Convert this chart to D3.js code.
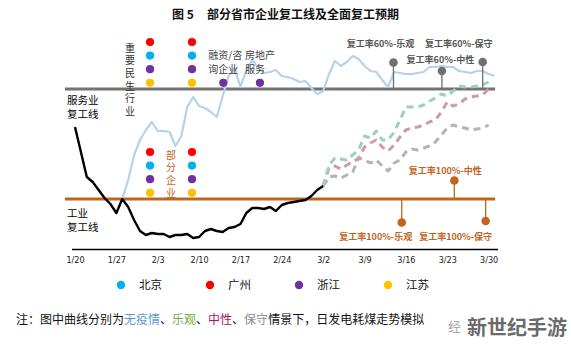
<!DOCTYPE html>
<html><head><meta charset="utf-8">
<script src="https://cdn.jsdelivr.net/npm/d3@7"></script>
<style>body{margin:0;background:#fff} svg{display:block}</style>
</head><body>
<svg id="c" width="571" height="356"></svg>
<script>
// ---------------- data ----------------
const tickDays = [0, 7, 14, 21, 28, 35, 42, 49, 56, 63, 70];
const tickLabels = ["1/20", "1/27", "2/3", "2/10", "2/17", "2/24", "3/2", "3/9", "3/16", "3/23", "3/30"];

// actual daily coal consumption index (black), starting 1/20
const actualStart = 0;
const actualValues = [61.5, 49, 36.5, 34, 30, 26, 23, 18.5, 25.5, 21.5, 15, 9.5, 7.5, 8.5, 8, 8, 6.5, 7.5, 7.5, 8,
  6, 6.5, 9.5, 10.5, 9.5, 9, 11, 11.5, 13, 18.5, 21, 21, 20.5, 21.5, 19.5, 22.5, 23.5, 24, 24.5, 25, 27, 30, 32];

// no-epidemic scenario (light blue)
const noEpidemicStart = 8;
const noEpidemicValues = [25.5, 35, 47.5, 55, 60, 64, 59.5, 59.5, 59, 52, 57, 71.5, 76.5, 72, 71, 69, 66.5, 77, 87, 91,
  81.5, 90, 95, 91, 88.5, 89, 90, 87, 86.5, 85.5, 84, 84.5, 81, 78, 79.5, 88, 94.5, 92, 94, 97,
  95.5, 92, 89.5, 89, 85, 81.5, 89, 88.5, 88, 88, 88.5, 89, 91.5, 91.5, 92, 91.5, 91.5, 89.5, 89, 88.5,
  89.5, 89.5, 88, 87];

// scenario projections from 3/2
const scenarioStart = 42;
const optimisticValues = [32, 42.5, 46, 45.5, 45, 47.5, 50, 57, 56, 59.5, 55, 55, 59, 65, 71.5, 71.5, 71.5, 72.5, 74.5, 76,
  78, 77, 79.5, 82, 81.5, 81.5, 82, 82.5, 84];
const neutralValues = [32, 41, 42, 40.5, 42.5, 44, 46, 51.5, 53.5, 55, 51.5, 49.5, 52.5, 56.5, 60, 61, 61.5, 62.5, 64, 65,
  69, 74, 72, 73, 75.5, 76.5, 77, 77.5, 80.5];
const conservativeValues = [32, 36.5, 37, 36, 37.5, 39, 46, 45, 43.5, 45, 42, 39.5, 43.5, 45, 49, 50.5, 50, 51, 52, 54,
  57.5, 61, 62.5, 61.5, 61, 60, 60.5, 61, 62.5];

const serviceLineValue = 80.5;   // 服务业复工线
const industryLineValue = 25.5;  // 工业复工线

const provinces = ["北京", "广州", "浙江", "江苏"];
const provinceColors = ["#00b0f0", "#ff0000", "#7030a0", "#ffc000"];

// annotated sectors (day index, provinces that resumed)
const serviceGroups = [
  { day: 12.7, provinces: ["广州", "北京", "浙江", "江苏"] },
  { day: 19.8, provinces: ["广州", "北京", "浙江", "江苏"] },
  { day: 25.1, provinces: ["浙江"], label: ["融资/咨", "询企业"] },
  { day: 31.3, provinces: ["浙江"], label: ["房地产", "服务"] }
];
const industryGroups = [
  { day: 12.7, provinces: ["广州", "北京", "浙江", "江苏"] },
  { day: 19.8, provinces: ["广州", "北京", "浙江", "江苏"] }
];

const milestones60 = [
  { label: "复工率60%-乐观", day: 53.9 },
  { label: "复工率60%-中性", day: 62.1 },
  { label: "复工率60%-保守", day: 69 }
];
const milestones100 = [
  { label: "复工率100%-乐观", day: 55.3 },
  { label: "复工率100%-中性", day: 64.2 },
  { label: "复工率100%-保守", day: 69.5 }
];

// ---------------- drawing ----------------
const svg = d3.select("#c");
const CJK = "'Noto Sans CJK SC', 'Noto Sans', sans-serif";
const x = d3.scaleLinear().domain([0, 70]).range([75, 488.6]);
const y = d3.scaleLinear().domain([0, 105]).range([250, 40]);

// title
svg.append("text").attr("x", 172).attr("y", 19).attr("font-family", CJK).attr("font-weight", "bold")
  .attr("font-size", 12).attr("fill", "#111").text("图 5");
svg.append("text").attr("x", 207).attr("y", 19).attr("font-family", CJK).attr("font-weight", "bold")
  .attr("font-size", 12).attr("fill", "#111").text("部分省市企业复工线及全面复工预期");

// reference lines
const refLines = [
  { v: serviceLineValue, color: "#737373" },
  { v: industryLineValue, color: "#c0651f" }
];
svg.selectAll(".ref").data(refLines).join("line")
  .attr("x1", x(-1.7)).attr("x2", x(71.1))
  .attr("y1", d => y(d.v)).attr("y2", d => y(d.v))
  .attr("stroke", d => d.color).attr("stroke-width", 3.2);

// x axis
const axisG = svg.append("g").attr("transform", `translate(0,${y(0) - 0.5})`);
axisG.append("line").attr("x1", x(-0.5)).attr("x2", x(71.6)).attr("stroke", "#000").attr("stroke-width", 1.3);
const ax = d3.axisBottom(x).tickValues(tickDays).tickSize(0).tickPadding(7)
  .tickFormat(d => tickLabels[tickDays.indexOf(d)]);
const axG2 = axisG.append("g").call(ax);
axG2.select(".domain").remove();
axG2.selectAll("text").attr("font-family", "'Liberation Sans Narrow', 'DejaVu Sans Condensed', sans-serif")
  .attr("font-size", 9).attr("fill", "#222");

// lines
const line = d3.line().x(d => x(d[0])).y(d => y(d[1]));
const toPts = (start, arr) => arr.map((v, i) => [start + i, v]);

svg.append("path").attr("d", line(toPts(noEpidemicStart, noEpidemicValues)))
  .attr("fill", "none").attr("stroke", "#b4d3ea").attr("stroke-width", 2.2).attr("stroke-linejoin", "round");

const scen = [
  { vals: conservativeValues, color: "#b3b3bb" },
  { vals: neutralValues, color: "#d09aaa" },
  { vals: optimisticValues, color: "#9dd1bb" }
];
scen.forEach(s => {
  svg.append("path").attr("d", line(toPts(scenarioStart, s.vals)))
    .attr("fill", "none").attr("stroke", s.color).attr("stroke-width", 3)
    .attr("stroke-dasharray", "7,5").attr("stroke-linejoin", "round");
});

svg.append("path").attr("d", line(toPts(actualStart, actualValues)))
  .attr("fill", "none").attr("stroke", "#000").attr("stroke-width", 2.4).attr("stroke-linejoin", "round");

// multi-line label as one text element
function multi(lines, xx, yy, size, color, step) {
  const t = svg.append("text").attr("x", xx).attr("y", yy).attr("font-family", CJK)
    .attr("font-size", size).attr("fill", color);
  lines.forEach((s, j) => t.append("tspan").attr("x", xx).attr("dy", j ? step : 0).text(s));
  return t;
}
multi(["服务业", "复工线"], 67, 104, 10.5, "#000", 14.3);
multi(["工业", "复工线"], 67, 217, 10.5, "#000", 14.3);

// province dot stacks
const colorOf = p => provinceColors[provinces.indexOf(p)];
function drawStack(groups, baseVal) {
  groups.forEach(g => {
    const n = g.provinces.length;
    g.provinces.forEach((p, i) => {
      const k = n - 1 - i; // stack from bottom
      svg.append("circle").attr("cx", x(g.day)).attr("cy", y(baseVal) - 6.2 - k * 13.6)
        .attr("r", 4.1).attr("fill", colorOf(p));
    });
    if (g.label) multi(g.label, x(g.day) - 15, y(baseVal) - 30, 10, "#404040", 14);
  });
}
drawStack(serviceGroups, serviceLineValue);
drawStack(industryGroups, industryLineValue);

// vertical texts (single text element, vertical writing mode)
function vtext(str, xx, yTop, color) {
  svg.append("text").attr("x", xx).attr("y", yTop)
    .style("writing-mode", "vertical-rl").style("letter-spacing", "2.6px")
    .attr("font-family", CJK).attr("font-size", 10).attr("fill", color).text(str);
}
vtext("重要民生行业", (x(12.7) + x(19.8)) / 2 - 41, 43, "#333");
vtext("部分企业", (x(12.7) + x(19.8)) / 2, 150, "#c0651f");

// 60% milestones
const m60 = { dotOff: [-26.5, -18, -27], lx: [-13, -1.5, -24], ly: [-42, -26, -42] };
milestones60.forEach((m, i) => {
  const cx = x(m.day), base = y(serviceLineValue);
  svg.append("line").attr("x1", cx).attr("x2", cx).attr("y1", base).attr("y2", base + m60.dotOff[i])
    .attr("stroke", "#6f6f6f").attr("stroke-width", 1.3);
  svg.append("circle").attr("cx", cx).attr("cy", base + m60.dotOff[i]).attr("r", 4.3).attr("fill", "#6f6f6f");
  svg.append("text").attr("x", cx + m60.lx[i]).attr("y", base + m60.ly[i]).attr("text-anchor", "middle")
    .attr("font-family", CJK).attr("font-weight", "bold").attr("font-size", 9).attr("fill", "#555").text(m.label);
});
// 100% milestones
const m100 = { dotOff: [23.5, -18.5, 22], lx: [-26, -9, -30], ly: [40.5, -25, 40.5] };
milestones100.forEach((m, i) => {
  const cx = x(m.day), base = y(industryLineValue);
  svg.append("line").attr("x1", cx).attr("x2", cx).attr("y1", base).attr("y2", base + m100.dotOff[i])
    .attr("stroke", "#c0651f").attr("stroke-width", 1.3);
  svg.append("circle").attr("cx", cx).attr("cy", base + m100.dotOff[i]).attr("r", 4.3).attr("fill", "#c0651f");
  svg.append("text").attr("x", cx + m100.lx[i]).attr("y", base + m100.ly[i]).attr("text-anchor", "middle")
    .attr("font-family", CJK).attr("font-weight", "bold").attr("font-size", 9).attr("fill", "#c0651f").text(m.label);
});

// legend
const leg = svg.append("g").attr("transform", "translate(121,285)");
provinces.forEach((p, i) => {
  const g = leg.append("g").attr("transform", `translate(${i * 89},0)`);
  g.append("circle").attr("r", 4.2).attr("fill", provinceColors[i]);
  g.append("text").attr("x", 18).attr("y", 4.2).attr("font-family", CJK).attr("font-size", 11.5).attr("fill", "#111").text(p);
});

// footnote
const note = svg.append("text").attr("x", 16).attr("y", 324).attr("font-family", CJK).attr("font-size", 12).attr("fill", "#111");
const parts = [["注：图中曲线分别为", "#111"], ["无疫情", "#5b9bd5"], ["、", "#111"], ["乐观", "#70ad47"], ["、", "#111"],
  ["中性", "#a5145a"], ["、", "#111"], ["保守", "#8c8c8c"], ["情景下，日发电耗煤走势模拟", "#111"]];
parts.forEach(p => note.append("tspan").attr("fill", p[1]).text(p[0]));

// watermark
svg.append("text").attr("x", 448).attr("y", 331).attr("font-family", CJK).attr("font-size", 13).attr("fill", "#aaa").text("经");
svg.append("text").attr("x", 467).attr("y", 335).attr("font-family", CJK).attr("font-weight", "bold").attr("font-size", 20)
  .attr("fill", "#6b6b6b").attr("stroke", "#fff").attr("stroke-width", 0.6).attr("paint-order", "stroke").text("新世纪手游");
</script>
</body></html>
